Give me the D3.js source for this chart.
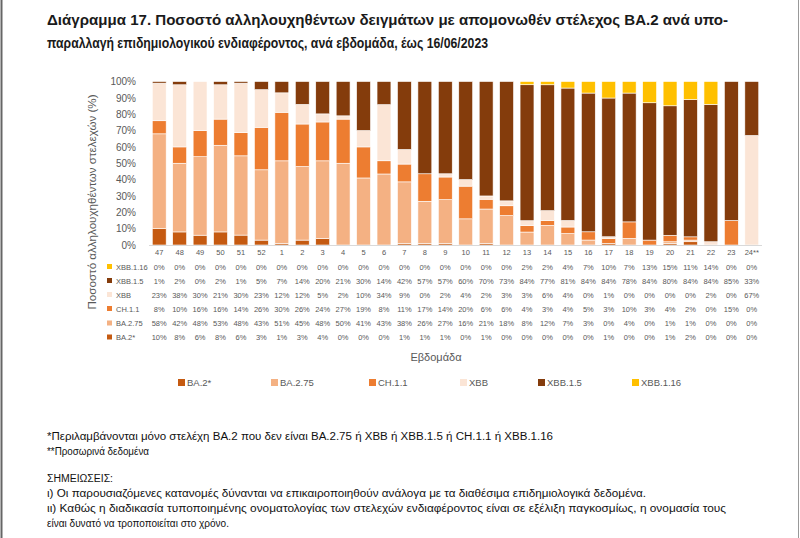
<!DOCTYPE html>
<html><head><meta charset="utf-8">
<script src="https://cdn.jsdelivr.net/npm/d3@7"></script>
<style>body{margin:0;background:#fff}svg{display:block}</style>
</head><body>
<script>
const weeks = ["47","48","49","50","51","52","1","2","3","4","5","6","7","8","9","10","11","12","13","14","15","16","17","18","19","20","21","22","23","24**"];
const BA2star = [10,8,6,8,6,3,1,3,4,0,0,0,1,1,1,0,1,0,0,0,0,0,1,0,0,1,2,0,0,0];
const BA275   = [58,42,48,53,48,43,51,45,48,50,41,43,38,26,27,16,21,18,8,12,7,3,0,4,0,1,1,0,0,0];
const CH11    = [8,10,16,16,14,26,30,26,24,27,19,8,11,17,14,20,6,6,4,3,4,5,3,10,3,4,2,0,15,0];
const XBB     = [23,38,30,21,30,23,12,12,5,2,10,34,9,0,2,4,2,3,3,6,4,0,1,0,0,0,0,2,0,67];
const XBB15   = [1,2,0,2,1,5,7,14,20,21,30,14,42,57,57,60,70,73,84,77,81,84,84,78,84,80,84,84,85,33];
const XBB116  = [0,0,0,0,0,0,0,0,0,0,0,0,0,0,0,0,0,0,2,2,4,7,10,7,13,15,11,14,0,0];
const seriesNames = ["BA.2*","BA.2.75","CH.1.1","XBB","XBB.1.5","XBB.1.16"];
const seriesColors = ["#C55A11","#F4B183","#ED7D31","#FBE5D6","#843C0C","#FFC000"];
const yTickLabels = ["0%","10%","20%","30%","40%","50%","60%","70%","80%","90%","100%"];
const titleLines = ["Διάγραμμα 17. Ποσοστό αλληλουχηθέντων δειγμάτων με απομονωθέν στέλεχος ΒΑ.2 ανά υπο-",
  "παραλλαγή επιδημιολογικού ενδιαφέροντος, ανά εβδομάδα, έως 16/06/2023"];
const notes = [
  "*Περιλαμβάνονται μόνο στελέχη BA.2 που δεν είναι BA.2.75 ή XBB ή XBB.1.5 ή CH.1.1 ή XBB.1.16",
  "**Προσωρινά δεδομένα",
  "ΣΗΜΕΙΩΣΕΙΣ:",
  "ι) Οι παρουσιαζόμενες κατανομές δύνανται να επικαιροποιηθούν ανάλογα με τα διαθέσιμα επιδημιολογικά δεδομένα.",
  "ιι) Καθώς η διαδικασία τυποποιημένης ονοματολογίας των στελεχών ενδιαφέροντος είναι σε εξέλιξη παγκοσμίως, η ονομασία τους",
  "είναι δυνατό να τροποποιείται στο χρόνο."
];

const seriesVals = [BA2star,BA275,CH11,XBB,XBB15,XBB116];
const rows = weeks.map((w,i)=>{const o={week:w}; seriesNames.forEach((n,j)=>o[n]=seriesVals[j][i]); return o;});

const W=800,H=538;
const svg=d3.select("body").append("svg").attr("width",W).attr("height",H);
svg.append("rect").attr("width",W).attr("height",H).attr("fill","#fff");
// page border
svg.append("line").attr("x1",1.5).attr("x2",1.5).attr("y1",0).attr("y2",H).attr("stroke","#666").attr("stroke-width",2);
svg.append("line").attr("x1",798.5).attr("x2",798.5).attr("y1",0).attr("y2",H).attr("stroke","#999").attr("stroke-width",1);

const font="'Liberation Sans', Arial, sans-serif";
const gray="#595959";

// title
const titleEnds=[728,488];
titleLines.forEach((t,i)=>{
  svg.append("text").attr("x",47).attr("y",25+i*23).attr("font-family",font).attr("font-weight","bold")
   .attr("font-size",14.5).attr("fill","#1a1a1a").attr("textLength",titleEnds[i]-47).attr("lengthAdjust","spacingAndGlyphs").text(t);
});

const x=d3.scaleBand().domain(weeks).range([149,762]).paddingInner(0.32).paddingOuter(0.16);
const y=d3.scaleLinear().domain([0,1]).range([245,81.5]);

const stack=d3.stack().keys(seriesNames).offset(d3.stackOffsetExpand);
const stacked=stack(rows);

const g=svg.append("g");
g.selectAll("g.s").data(stacked).join("g").attr("fill",(d,i)=>seriesColors[i])
 .selectAll("rect").data(d=>d).join("rect")
 .attr("x",d=>x(d.data.week)).attr("width",x.bandwidth())
 .attr("y",d=>y(d[1])).attr("height",d=>Math.max(0,y(d[0])-y(d[1])))
 .attr("stroke","#fff").attr("stroke-width",d=>(d[1]-d[0])>0?0.6:0);

// y axis
const yAxis=d3.axisLeft(y).tickValues(d3.range(0,1.0001,0.1)).tickFormat((d,i)=>yTickLabels[i]).tickSize(0).tickPadding(5);
const ya=svg.append("g").attr("transform","translate(141,0)").call(yAxis);
ya.select(".domain").remove();
ya.selectAll("text").attr("font-family",font).attr("font-size",10).attr("fill",gray);

// baseline
svg.append("line").attr("x1",149).attr("x2",762).attr("y1",245.5).attr("y2",245.5).attr("stroke","#d9d9d9");

// x axis labels (table header)
const xa=svg.append("g").attr("transform","translate(0,247)").call(d3.axisBottom(x).tickSize(0).tickPadding(3));
xa.select(".domain").remove();
xa.selectAll("text").attr("font-family",font).attr("font-size",7.5).attr("fill",gray);

// data table
const tableOrder=[5,4,3,2,1,0];
const rowY=[267,281,295,309,323.5,337.5];
tableOrder.forEach((si,r)=>{
  svg.append("rect").attr("x",107).attr("y",rowY[r]-3).attr("width",5).attr("height",5).attr("fill",seriesColors[si]);
  svg.append("text").attr("x",116).attr("y",rowY[r]).attr("dy","0.35em").attr("font-family",font).attr("font-size",7.5).attr("fill",gray).text(seriesNames[si]);
  svg.append("g").selectAll("text").data(seriesVals[si]).join("text")
   .attr("x",(d,i)=>x(weeks[i])+x.bandwidth()/2).attr("y",rowY[r]).attr("dy","0.35em").attr("text-anchor","middle")
   .attr("font-family",font).attr("font-size",7.5).attr("fill",gray).text(d=>d+"%");
});

// axis titles
svg.append("text").attr("transform","translate(96,202) rotate(-90)").attr("text-anchor","middle")
 .attr("font-family",font).attr("font-size",11).attr("fill",gray).attr("textLength",215).attr("lengthAdjust","spacingAndGlyphs")
 .text("Ποσοστό αλληλουχηθέντων στελεχών (%)");
svg.append("text").attr("x",436).attr("y",361).attr("text-anchor","middle").attr("font-family",font).attr("font-size",11).attr("fill",gray).text("Εβδομάδα");

// legend
const legX=[178,271,369,460,538,632];
seriesNames.forEach((n,i)=>{
  svg.append("rect").attr("x",legX[i]).attr("y",379).attr("width",7).attr("height",7).attr("fill",seriesColors[i]);
  svg.append("text").attr("x",legX[i]+9).attr("y",383).attr("dy","0.35em").attr("font-family",font).attr("font-size",9.5).attr("fill",gray).text(n);
});

// notes
const noteY=[440,455,482,497,512,527];
const noteEnds=[553,149,113,646,726,229];
notes.forEach((t,i)=>{
  svg.append("text").attr("x",47).attr("y",noteY[i]).attr("font-family",font).attr("font-size",10).attr("fill","#111")
   .attr("textLength",noteEnds[i]-47).attr("lengthAdjust","spacingAndGlyphs").text(t);
});
</script>
</body></html>
